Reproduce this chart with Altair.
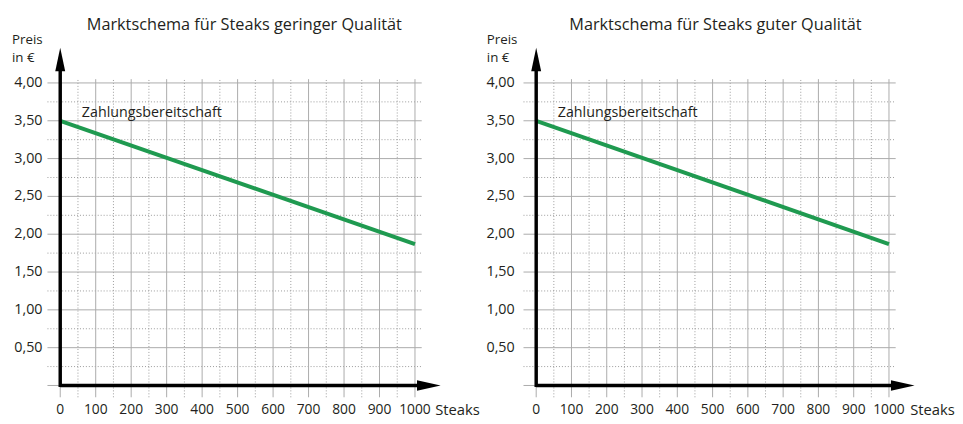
import altair as alt
import pandas as pd

# ---------------- data ----------------
titles = ["Marktschema für Steaks geringer Qualität", "Marktschema für Steaks guter Qualität"]
x_tick_values = [0, 100, 200, 300, 400, 500, 600, 700, 800, 900, 1000]
x_tick_labels = ["0", "100", "200", "300", "400", "500", "600", "700", "800", "900", "1000"]
y_tick_values = [0.5, 1.0, 1.5, 2.0, 2.5, 3.0, 3.5, 4.0]
y_tick_labels = ["0,50", "1,00", "1,50", "2,00", "2,50", "3,00", "3,50", "4,00"]
demand_steaks = [0, 1000]
demand_price_low = [3.5, 1.87]
demand_price_good = [3.5, 1.87]
curve_label = "Zahlungsbereitschaft"
y_title_lines = ["Preis", "in €"]
x_title = "Steaks"

FONT = "Open Sans"
TXT = "#231f20"
GREEN = "#1f9a50"

# ---------------- geometry (layout only) ----------------
H = 408
Y0PX = 380          # pixel row of price 0 inside panel
PXU_Y = 76.75       # pixels per 1 €
YDOM = [-(H - Y0PX) / PXU_Y, Y0PX / PXU_Y]

panels_geom = [
    dict(W=470, x0px=53, pxu=0.36, title_x=519, ylab_x=-50, ytitle_x=-136, xtitle_x=1057),
    dict(W=477, x0px=57, pxu=0.358, title_x=508, ylab_x=-61, ytitle_x=-140, xtitle_x=1060),
]


def panel(title, prices, g):
    W = g["W"]
    xdom = [-g["x0px"] / g["pxu"], (W - g["x0px"]) / g["pxu"]]
    xs = alt.Scale(domain=xdom, nice=False, zero=False)
    ys = alt.Scale(domain=YDOM, nice=False, zero=False)

    def X(f):
        return alt.X(f, type="quantitative", scale=xs, axis=None)

    def Y(f):
        return alt.Y(f, type="quantitative", scale=ys, axis=None)

    grid_x_lo = -36
    grid_x_hi = 1019
    grid_y_lo = -0.156
    grid_y_hi = 4.05

    vlines = pd.DataFrame({"x": list(range(0, 1001, 50))})
    vlines["major"] = vlines["x"] % 100 == 0
    vlines["y1"] = grid_y_lo
    vlines["y2"] = grid_y_hi
    hl = [i * 0.25 for i in range(0, 17)]
    hlines = pd.DataFrame({"y": hl})
    hlines["major"] = [i % 2 == 0 for i in range(0, 17)]
    hlines["x1"] = grid_x_lo
    hlines["x2"] = grid_x_hi

    v_major = alt.Chart(vlines[vlines.major]).mark_rule(color="#ababab", strokeWidth=1).encode(
        x=X("x"), y=Y("y1"), y2="y2")
    v_minor = alt.Chart(vlines[~vlines.major]).mark_rule(color="#9a9a9a", strokeWidth=1, strokeDash=[1, 2]).encode(
        x=X("x"), y=Y("y1"), y2="y2")
    h_major = alt.Chart(hlines[hlines.major]).mark_rule(color="#ababab", strokeWidth=1).encode(
        y=Y("y"), x=X("x1"), x2="x2")
    h_minor = alt.Chart(hlines[~hlines.major]).mark_rule(color="#9a9a9a", strokeWidth=1, strokeDash=[1, 2]).encode(
        y=Y("y"), x=X("x1"), x2="x2")

    line_df = pd.DataFrame({"steaks": demand_steaks, "price": prices})
    demand = alt.Chart(line_df).mark_line(color=GREEN, strokeWidth=4).encode(
        x=X("steaks"), y=Y("price"))

    # black axes with arrows
    yaxis_df = pd.DataFrame({"x": [0], "y1": [-0.02], "y2": [4.32]})
    xaxis_df = pd.DataFrame({"y": [0], "x1": [0], "x2": [1040]})
    yaxis = alt.Chart(yaxis_df).mark_rule(color="black", strokeWidth=3.5).encode(
        x=X("x"), y=Y("y1"), y2="y2")
    xaxis = alt.Chart(xaxis_df).mark_rule(color="black", strokeWidth=3.5).encode(
        y=Y("y"), x=X("x1"), x2="x2")
    up_arrow = alt.Chart(pd.DataFrame({"x": [0], "y": [4.31]})).mark_point(
        shape="M0,-1L0.42,1L-0.42,1Z", size=576, filled=True, color="black", opacity=1).encode(
        x=X("x"), y=Y("y"))
    right_arrow = alt.Chart(pd.DataFrame({"x": [1039], "y": [0]})).mark_point(
        shape="M1,0L-1,-0.45L-1,0.45Z", size=576, filled=True, color="black", opacity=1).encode(
        x=X("x"), y=Y("y"))

    # texts
    ylab_df = pd.DataFrame({"y": y_tick_values, "t": y_tick_labels, "x": g["ylab_x"]})
    ylabs = alt.Chart(ylab_df).mark_text(font=FONT, fontSize=14.5, align="right", baseline="middle", color=TXT).encode(
        x=X("x"), y=Y("y"), text="t")
    xlab_df = pd.DataFrame({"x": x_tick_values, "t": x_tick_labels, "y": -0.33})
    xlabs = alt.Chart(xlab_df).mark_text(font=FONT, fontSize=14, align="center", baseline="middle", color=TXT).encode(
        x=X("x"), y=Y("y"), text="t")
    xt = alt.Chart(pd.DataFrame({"x": [g["xtitle_x"]], "y": [-0.33], "t": [x_title]})).mark_text(
        font=FONT, fontSize=15, align="left", baseline="middle", color=TXT).encode(x=X("x"), y=Y("y"), text="t")
    yt = alt.Chart(pd.DataFrame({"x": [g["ytitle_x"]] * 2, "y": [4.57, 4.33], "t": y_title_lines})).mark_text(
        font=FONT, fontSize=13.5, align="left", baseline="middle", color=TXT).encode(x=X("x"), y=Y("y"), text="t")
    tt = alt.Chart(pd.DataFrame({"x": [g["title_x"]], "y": [4.77], "t": [title]})).mark_text(
        font=FONT, fontSize=16.5, align="center", baseline="middle", color=TXT).encode(x=X("x"), y=Y("y"), text="t")
    cl = alt.Chart(pd.DataFrame({"x": [61], "y": [3.6], "t": [curve_label]})).mark_text(
        font=FONT, fontSize=14.5, align="left", baseline="middle", color=TXT).encode(x=X("x"), y=Y("y"), text="t")

    return alt.layer(v_minor, h_minor, v_major, h_major, demand, yaxis, xaxis, up_arrow, right_arrow,
                     ylabs, xlabs, xt, yt, tt, cl).properties(width=W, height=H)


left = panel(titles[0], demand_price_low, panels_geom[0])
right = panel(titles[1], demand_price_good, panels_geom[1])

chart = alt.hconcat(left, right, spacing=0).properties(padding=0).configure_view(stroke=None)
chart.save("out.html", embed_options={"renderer": "svg", "actions": False})
